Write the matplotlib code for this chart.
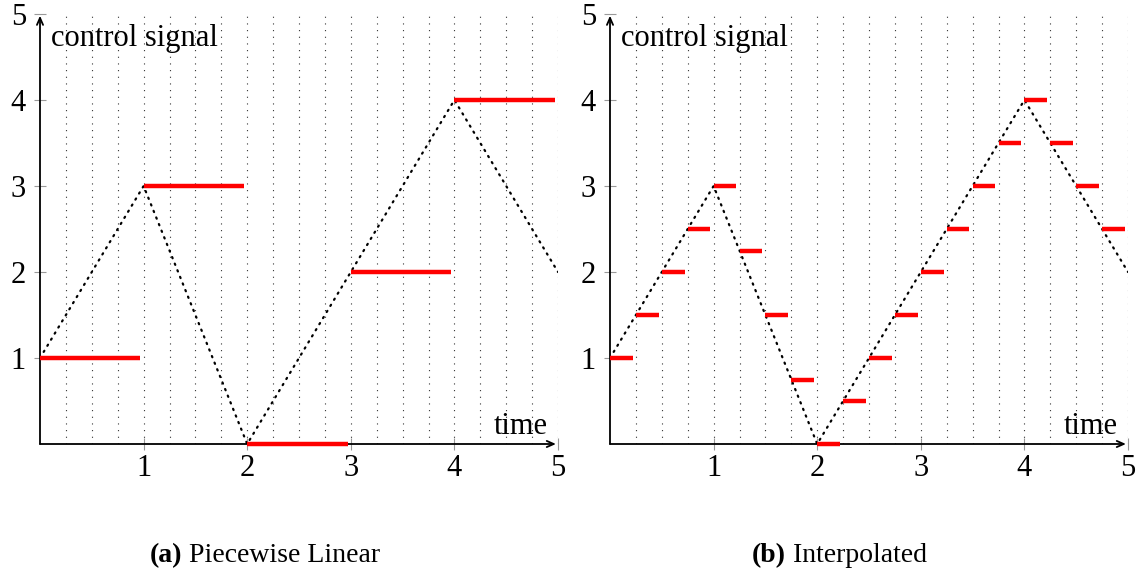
import matplotlib
matplotlib.use("Agg")
import matplotlib.pyplot as plt

# ---- data ----
signal_t = [0, 1, 2, 3, 4, 5]
signal_v = [1, 3, 0, 2, 4, 2]

pw_start = [0, 1, 2, 3, 4]
pw_value = [1, 3, 0, 2, 4]
pw_width = 0.97

ip_start = [0, 0.25, 0.5, 0.75, 1, 1.25, 1.5, 1.75, 2, 2.25,
            2.5, 2.75, 3, 3.25, 3.5, 3.75, 4, 4.25, 4.5, 4.75]
ip_value = [1, 1.5, 2, 2.5, 3, 2.25, 1.5, 0.75, 0, 0.5,
            1, 1.5, 2, 2.5, 3, 3.5, 4, 3.5, 3, 2.5]
ip_width = 0.22

grid_x = [0.25 * i for i in range(1, 21)]
ticks = [1, 2, 3, 4, 5]
captions = [("(a)", " Piecewise Linear"), ("(b)", " Interpolated")]

FONT = "Liberation Serif"
plt.rcParams['font.family'] = [FONT, 'DejaVu Serif']

W, H = 1146, 579
fig = plt.figure(figsize=(W / 100, H / 100), dpi=100)

def px_rect(x0, x1, ytop, ybot):
    return [x0 / W, (H - ybot) / H, (x1 - x0) / W, (ybot - ytop) / H]

axL = fig.add_axes(px_rect(40, 558, 14, 444))
axR = fig.add_axes(px_rect(610, 1128, 14, 444))

def style(ax, starts, values, width):
    ax.set_xlim(0, 5)
    ax.set_ylim(0, 5)
    for s in ax.spines.values():
        s.set_visible(False)
    ax.vlines(grid_x, 0, 5, colors='#333333', linewidth=0.8,
              linestyles=[(0, (1, 5))], zorder=1)
    ax.plot(signal_t, signal_v, color='black', linewidth=1.6,
            linestyle=(0, (0.6, 2.6)), dash_capstyle='round', zorder=2)
    for s, v in zip(starts, values):
        ax.plot([s, s + width], [v, v], color='#ff0000', linewidth=3.2,
                solid_capstyle='butt', zorder=4, clip_on=False)
    # axes with arrows
    ax.annotate('', xy=(4.98, 0), xytext=(0, 0),
                arrowprops=dict(arrowstyle='->,head_length=0.5,head_width=0.22',
                                color='black', lw=1.3, shrinkA=0, shrinkB=0),
                annotation_clip=False, zorder=3)
    ax.annotate('', xy=(0, 4.98), xytext=(0, 0),
                arrowprops=dict(arrowstyle='->,head_length=0.5,head_width=0.22',
                                color='black', lw=1.3, shrinkA=0, shrinkB=0),
                annotation_clip=False, zorder=3)
    ax.set_xticks(ticks)
    ax.set_yticks(ticks)
    ax.tick_params(direction='inout', length=8, width=0.8, color='#999999',
                   labelsize=22, labelcolor='black')
    ax.tick_params(axis='x', pad=3)
    ax.tick_params(axis='y', pad=6)
    ax.text(0.11, 4.72, 'control signal', fontsize=22, ha='left', va='center')
    ax.text(4.9, 0.2, 'time', fontsize=22, ha='right', va='center')

style(axL, pw_start, pw_value, pw_width)
style(axR, ip_start, ip_value, ip_width)

# captions
fig.canvas.draw()
renderer = fig.canvas.get_renderer()
for (bold, rest), xpx in zip(captions, [150, 752]):
    t1 = fig.text(xpx / W, (H - 556) / H, bold, fontsize=20, fontweight='bold',
                  ha='left', va='center')
    bb = t1.get_window_extent(renderer)
    fig.text(bb.x1 / W, (H - 556) / H, rest, fontsize=20, ha='left', va='center')

fig.savefig('out.png', dpi=100)
